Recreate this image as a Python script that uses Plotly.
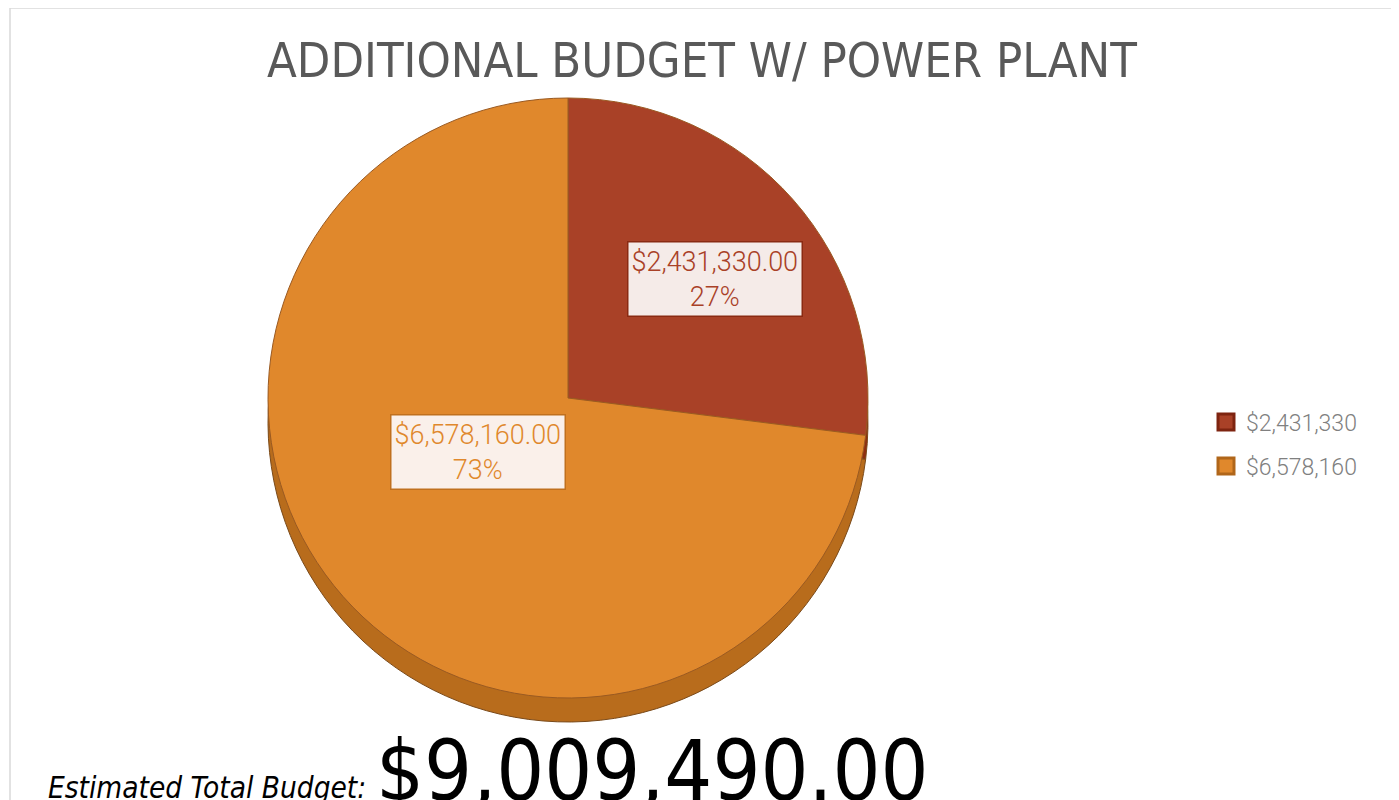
import plotly.graph_objects as go

# ---- data ----
categories = ["$2,431,330", "$6,578,160"]
values = [2431330.00, 6578160.00]
title_text = "ADDITIONAL BUDGET W/ POWER PLANT"
total_label = "Estimated Total Budget:"

face_colors = ["#A94127", "#E0882C"]
rim_colors = ["#8E2E10", "#B86C1C"]
edge_colors = ["#8A2A12", "#C0701E"]
legend_edge = ["#7E2410", "#B0661A"]
label_bg = ["#F5EBE8", "#FAF0EA"]

total = sum(values)
pcts = [v / total * 100 for v in values]

# page has an 8px body margin; size the figure to the visible window
OFF = 8
W, H = 1399 - OFF, 800 - OFF

def px_x(x):
    return (x - OFF) / W

def px_y(y):
    return 1 - (y - OFF) / H

CX, TOP, D = 568, 98, 600
fig = go.Figure()

# lower pie (rim / side depth)
fig.add_trace(go.Pie(
    labels=categories, values=values, sort=False, direction="clockwise",
    rotation=0, textinfo="none", hoverinfo="skip", showlegend=False,
    marker=dict(colors=rim_colors, line=dict(color="#7a4a1a", width=1)),
    domain=dict(x=[px_x(CX - D / 2), px_x(CX + D / 2)], y=[px_y(TOP + D + 24), px_y(TOP + 24)]),
))
# top face
fig.add_trace(go.Pie(
    labels=categories, values=values, sort=False, direction="clockwise",
    rotation=0, textinfo="none", hoverinfo="skip", showlegend=False,
    marker=dict(colors=face_colors, line=dict(color="#9a5a22", width=1)),
    domain=dict(x=[px_x(CX - D / 2), px_x(CX + D / 2)], y=[px_y(TOP + D), px_y(TOP)]),
))

# legend entries (one legend box per item for exact spacing)
legend_y = [422, 466]
for i, name in enumerate(categories):
    lname = "legend" if i == 0 else "legend2"
    fig.add_trace(go.Scatter(
        x=[None], y=[None], mode="markers", name=name, legend=lname,
        marker=dict(symbol="square", size=17, color=face_colors[i],
                    line=dict(color=legend_edge[i], width=3)),
        hoverinfo="skip",
    ))

label_pos = [(715, 279), (390, 452)]
for i, (v, p) in enumerate(zip(values, pcts)):
    fig.add_annotation(
        x=px_x(label_pos[i][0]), y=px_y(label_pos[i][1]), xref="paper", yref="paper",
        text=f"${v:,.2f}<br>{p:.0f}%", showarrow=False,
        font=dict(family="Roboto, sans-serif", size=27, color=face_colors[i], weight=300),
        bgcolor=label_bg[i], bordercolor=edge_colors[i], borderwidth=1.5, borderpad=3,
        align="center",
    )

# title
fig.add_annotation(
    x=px_x(702), y=px_y(60), xref="paper", yref="paper", text=title_text,
    showarrow=False, font=dict(family="DejaVu Sans Condensed, sans-serif", size=48.5, color="#595959"),
    xanchor="center", yanchor="middle",
)

# bottom total
fig.add_annotation(
    x=px_x(46), y=px_y(800), xref="paper", yref="paper", text=f"<i>{total_label}</i>",
    showarrow=False, font=dict(family="DejaVu Sans Condensed, sans-serif", size=29.5, color="#000000"),
    xanchor="left", yanchor="bottom", yshift=-7,
)
fig.add_annotation(
    x=px_x(374), y=px_y(800), xref="paper", yref="paper", text=f"${total:,.2f}",
    showarrow=False, font=dict(family="DejaVu Sans Condensed, sans-serif", size=84, color="#000000"),
    xanchor="left", yanchor="bottom", yshift=-22,
)

# chart frame
fig.add_shape(type="rect", xref="paper", yref="paper", x0=px_x(10), x1=px_x(1393),
              y0=px_y(840), y1=px_y(8), line=dict(color="#D9D9D9", width=1.5), fillcolor="rgba(0,0,0,0)")

leg_common = dict(xanchor="left", yanchor="middle",
                  font=dict(family="Roboto, sans-serif", size=23, color="#808080", weight=300),
                  bgcolor="rgba(0,0,0,0)", itemwidth=30)
fig.update_layout(
    width=W, height=H, margin=dict(l=0, r=0, t=0, b=0),
    paper_bgcolor="white", plot_bgcolor="white",
    xaxis=dict(visible=False), yaxis=dict(visible=False),
    legend=dict(x=px_x(1206), y=px_y(legend_y[0]), **leg_common),
    legend2=dict(x=px_x(1206), y=px_y(legend_y[1]), **leg_common),
)

fig.write_html("out.html")
